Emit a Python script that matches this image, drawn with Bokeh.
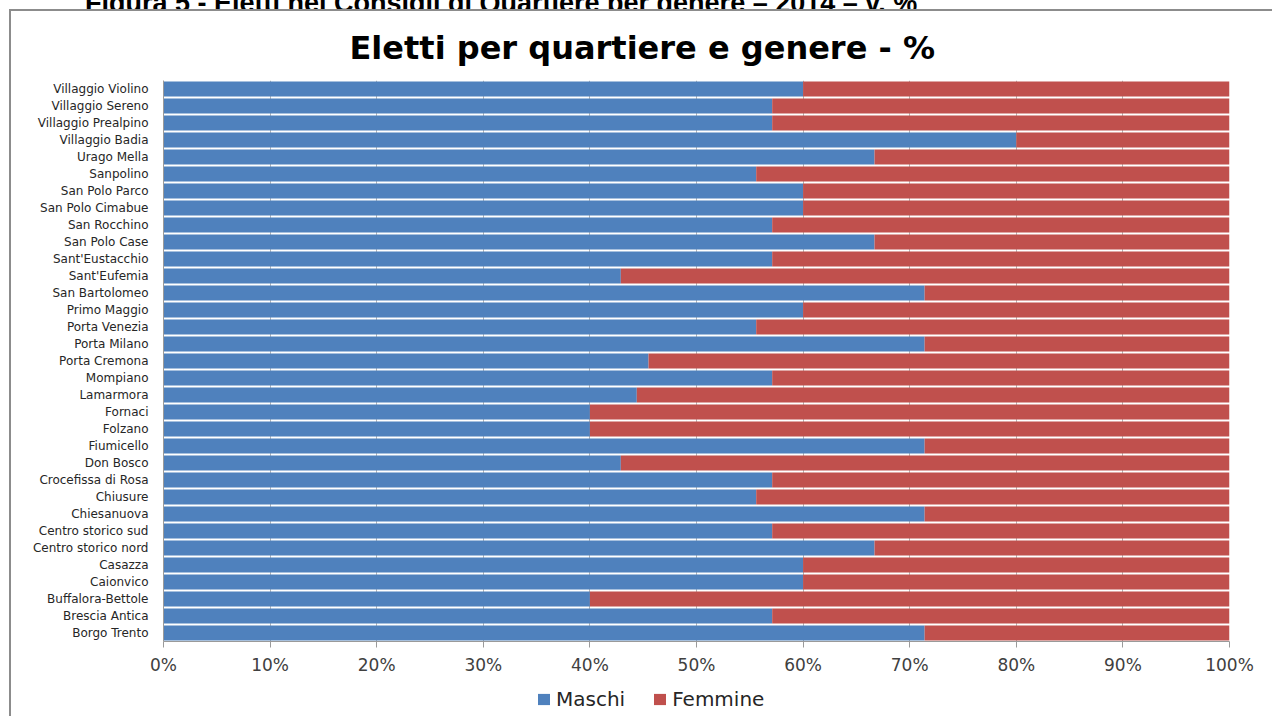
from bokeh.plotting import figure
from bokeh.layouts import column
from bokeh.models import (ColumnDataSource, FactorRange, Range1d, FixedTicker,
                          NumeralTickFormatter, Legend, LegendItem, Div)
from bokeh.embed import file_html
from bokeh.resources import INLINE

# Data (bottom to top, as drawn)
quartieri = [
    "Borgo Trento", "Brescia Antica", "Buffalora-Bettole", "Caionvico", "Casazza",
    "Centro storico nord", "Centro storico sud", "Chiesanuova", "Chiusure",
    "Crocefissa di Rosa", "Don Bosco", "Fiumicello", "Folzano", "Fornaci",
    "Lamarmora", "Mompiano", "Porta Cremona", "Porta Milano", "Porta Venezia",
    "Primo Maggio", "San Bartolomeo", "Sant'Eufemia", "Sant'Eustacchio",
    "San Polo Case", "San Rocchino", "San Polo Cimabue", "San Polo Parco",
    "Sanpolino", "Urago Mella", "Villaggio Badia", "Villaggio Prealpino",
    "Villaggio Sereno", "Villaggio Violino",
]
maschi = [
    0.714, 0.571, 0.400, 0.600, 0.600,
    0.667, 0.571, 0.714, 0.556,
    0.571, 0.429, 0.714, 0.400, 0.400,
    0.444, 0.571, 0.455, 0.714, 0.556,
    0.600, 0.714, 0.429, 0.571,
    0.667, 0.571, 0.600, 0.600,
    0.556, 0.667, 0.800, 0.571,
    0.571, 0.600,
]
femmine = [round(1 - m, 3) for m in maschi]
x_ticks = [0, 0.1, 0.2, 0.3, 0.4, 0.5, 0.6, 0.7, 0.8, 0.9, 1.0]
series_labels = ["Maschi", "Femmine"]
chart_title = "Eletti per quartiere e genere - %"
caption = "Figura 5 - Eletti nei Consigli di Quartiere per genere \u2013 2014 \u2013 v. %"

BLUE = "#4F81BD"
RED = "#C0504D"
FONT = "DejaVu Sans"
FRAME = "#8c8c8c"

source = ColumnDataSource(dict(quartiere=quartieri, Maschi=maschi, Femmine=femmine))

# caption of the document, cut off at the top as in the reference
cap = Div(
    text=('<div style="font-family:\'Liberation Sans\';font-weight:bold;font-size:27px;'
          'line-height:27px;margin-top:-22px;margin-left:85px;white-space:nowrap;color:#000">'
          + caption + '</div>'),
    width=1274, height=9, margin=(0, 0, 0, 0),
    styles={"overflow": "hidden"},
)

p = figure(
    width=1263, height=671,
    y_range=FactorRange(factors=quartieri, range_padding=0.0),
    x_range=Range1d(0, 1),
    output_backend="svg", toolbar_location=None,
    title=chart_title,
    min_border_left=152, min_border_right=45, min_border_top=69, min_border_bottom=41,
    margin=(0, 0, 0, 9),
    styles={"border-left": "2px solid " + FRAME, "border-top": "2px solid " + FRAME},
)

renderers = p.hbar_stack(series_labels, y="quartiere", height=0.88,
                         color=[BLUE, RED], line_color=None, source=source)

p.title.align = "left"
p.title.offset = 186
p.title.text_font = FONT
p.title.text_font_size = "32px"
p.title.text_font_style = "bold"
p.title.text_color = "#000000"
p.title.standoff = 28

p.xaxis.ticker = FixedTicker(ticks=x_ticks)
p.xaxis.formatter = NumeralTickFormatter(format="0%")
p.xaxis.major_label_text_font = FONT
p.xaxis.major_label_text_font_size = "17px"
p.xaxis.major_label_text_color = "#404040"
p.xaxis.axis_line_color = "#9a9a9a"
p.xaxis.major_tick_line_color = "#9a9a9a"
p.xaxis.major_tick_out = 6
p.xaxis.major_tick_in = 0
p.xaxis.minor_tick_line_color = None
p.xaxis.major_label_standoff = 7

p.yaxis.major_label_text_font = FONT
p.yaxis.major_label_text_font_size = "12px"
p.yaxis.major_label_text_color = "#262626"
p.yaxis.axis_line_color = "#9a9a9a"
p.yaxis.major_tick_line_color = None
p.yaxis.major_label_standoff = 9

p.xgrid.grid_line_color = "#b5b5b5"
p.xgrid.ticker = FixedTicker(ticks=x_ticks)
p.ygrid.grid_line_color = None
p.outline_line_color = None

# legend strip below the chart (its frame is aligned with the chart frame)
q = figure(width=1263, height=36, x_range=Range1d(0, 1), y_range=Range1d(0, 1),
           output_backend="svg", toolbar_location=None,
           x_axis_location=None, y_axis_location=None,
           min_border=0, margin=(0, 0, 0, 9),
           styles={"border-left": "2px solid " + FRAME})
q.grid.grid_line_color = None
q.outline_line_color = None
r1 = q.quad(left=[5], right=[6], top=[6], bottom=[5], fill_color=BLUE, line_color=None)
r2 = q.quad(left=[5], right=[6], top=[6], bottom=[5], fill_color=RED, line_color=None)
legend = Legend(items=[LegendItem(label=series_labels[0], renderers=[r1]),
                       LegendItem(label=series_labels[1], renderers=[r2])],
                orientation="horizontal", location=(373, 5),
                label_text_font=FONT, label_text_font_size="20px",
                label_text_color="#262626", label_standoff=5,
                glyph_width=15, glyph_height=14, spacing=27,
                border_line_color=None, background_fill_alpha=0,
                margin=0, padding=0)
q.add_layout(legend)

layout = column(cap, p, q, spacing=0, margin=(0, 0, 0, 0))
open("out.html", "w").write(file_html(layout, INLINE))
